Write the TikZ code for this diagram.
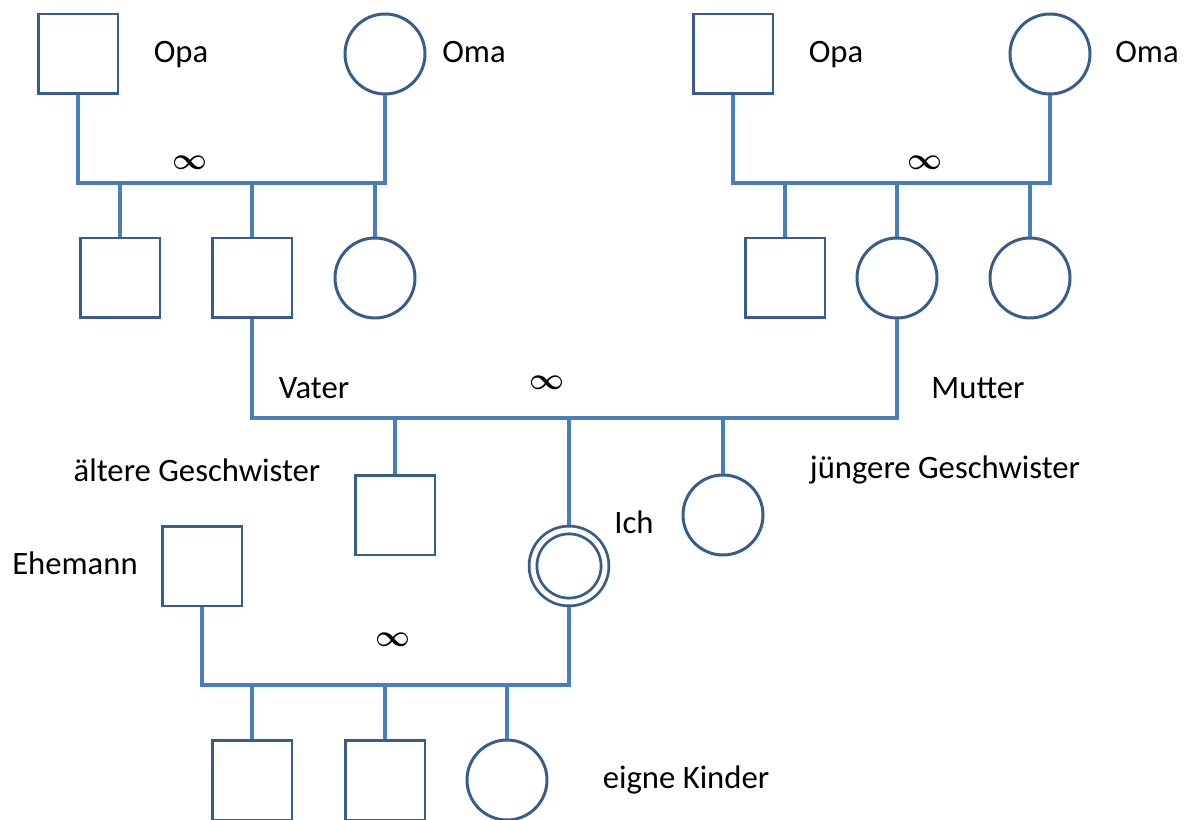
\documentclass[tikz,border=0pt]{standalone}
\usepackage{fontspec}
\usepackage{bm}
\setmainfont{Carlito}
\usetikzlibrary{positioning}
\definecolor{rand}{RGB}{56,93,138}
\definecolor{linie}{RGB}{74,126,187}

\begin{document}
\begin{tikzpicture}[x=0.02cm, y=-0.02cm,
    mann/.style={draw=rand, line width=1.7pt, minimum size=1.6cm},
    frau/.style={draw=rand, line width=1.7pt, circle, minimum size=1.6cm},
    verb/.style={draw=linie, line width=1.9pt},
    txt/.style={font=\fontsize{18.6}{22}\selectfont}]
    \clip (0,0) rectangle (1189,820);
    \fill[white] (0,0) rectangle (1189,820);

    % Grosseltern vaeterlicherseits
    \node[mann] (opaV) at (78,54) {};
    \node[frau] (omaV) at (385,54) {};
    \node[txt] (lopaV) at (181,55) {Opa};
    \node[txt] (lomaV) at (474,52) {Oma};
    \coordinate (eheV) at (231,183);
    \draw[verb] (opaV.south) |- (eheV) -| (omaV.south);
    \node[txt] (uV) at (190,163) {$\bm{\infty}$};
    \node[mann] (onkelV) at (120,278) {};
    \node[mann] (vater) at (252,278) {};
    \node[frau] (tanteV) at (375,278) {};
    \foreach \k in {onkelV, vater, tanteV}
        \draw[verb] (\k.north) -- (\k.north |- eheV);

    % Grosseltern muetterlicherseits
    \node[mann] (opaM) at (733,54) {};
    \node[frau] (omaM) at (1050,54) {};
    \node[txt] (lopaM) at (836,55) {Opa};
    \node[txt] (lomaM) at (1147,52) {Oma};
    \coordinate (eheM) at (891,183);
    \draw[verb] (opaM.south) |- (eheM) -| (omaM.south);
    \node[txt] (uM) at (925,163) {$\bm{\infty}$};
    \node[mann] (onkelM) at (785,278) {};
    \node[frau] (mutter) at (897,278) {};
    \node[frau] (tanteM) at (1030,278) {};
    \foreach \k in {onkelM, mutter, tanteM}
        \draw[verb] (\k.north) -- (\k.north |- eheM);

    % Eltern und Geschwister
    \node[txt] (lvater) at (314,388) {Vater};
    \node[txt] (lmutter) at (978,388) {Mutter};
    \coordinate (eheE) at (547,418);
    \draw[verb] (vater.south) |- (eheE) -| (mutter.south);
    \node[txt] (uE) at (547,383) {$\bm{\infty}$};
    \node[mann] (bruder) at (395,515) {};
    \node[frau, double=white, double distance=2.8pt, line width=1.6pt,
          minimum size=1.44cm, outer sep=3pt] (ich) at (569,566) {};
    \node[frau] (schwester) at (723,515) {};
    \foreach \k in {bruder, ich, schwester}
        \draw[verb] (\k.north) -- (\k.north |- eheE);
    \node[txt] (laelter) at (197,470) {ältere Geschwister};
    \node[txt] (ljuenger) at (945,470) {jüngere Geschwister};
    \node[txt] (lich) at (634,522) {Ich};

    % eigene Familie
    \node[mann] (ehemann) at (202,566) {};
    \node[txt] (lehemann) at (75,563) {Ehemann};
    \coordinate (eheI) at (393,685);
    \draw[verb] (ehemann.south) |- (eheI) -| (ich.south);
    \node[txt] (uI) at (393,640) {$\bm{\infty}$};
    \node[mann] (sohnA) at (252,780) {};
    \node[mann] (sohnB) at (385,780) {};
    \node[frau] (tochter) at (507,780) {};
    \foreach \k in {sohnA, sohnB, tochter}
        \draw[verb] (\k.north) -- (\k.north |- eheI);
    \node[txt] (lkinder) at (686,780) {eigne Kinder};
\end{tikzpicture}
\end{document}
